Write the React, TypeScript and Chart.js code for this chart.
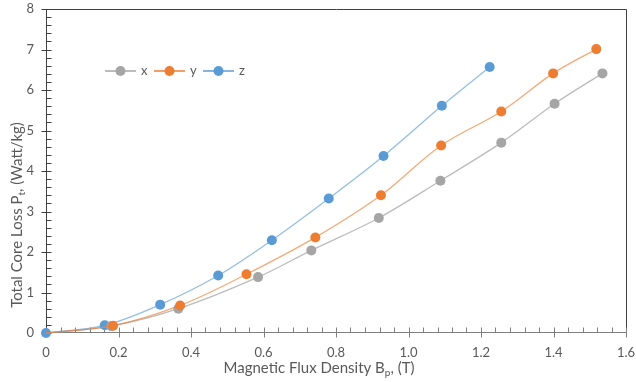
import React, { useEffect, useRef } from "react";
import { Chart, registerables } from "chart.js";

Chart.register(...registerables);

// ---- data ----
const seriesNames = ["x", "y", "z"];
const seriesColors = ["#A5A5A5", "#ED7D31", "#5B9BD5"];
const lineColors = ["rgba(165,165,165,0.75)", "rgba(237,125,49,0.65)", "rgba(91,155,213,0.65)"];

const bX = [0, 0.18, 0.365, 0.585, 0.732, 0.918, 1.088, 1.256, 1.403, 1.535];
const pX = [0, 0.17, 0.6, 1.38, 2.04, 2.84, 3.76, 4.7, 5.66, 6.41];

const bY = [0, 0.185, 0.37, 0.553, 0.743, 0.924, 1.09, 1.256, 1.399, 1.518];
const pY = [0, 0.18, 0.68, 1.45, 2.36, 3.4, 4.63, 5.47, 6.41, 7.01];

const bZ = [0, 0.162, 0.315, 0.475, 0.623, 0.78, 0.931, 1.092, 1.224];
const pZ = [0, 0.19, 0.7, 1.42, 2.29, 3.32, 4.37, 5.61, 6.57];

const xMin = 0, xMax = 1.6, xStep = 0.2, xMinorStep = 0.04;
const yMin = 0, yMax = 8, yStep = 1, yMinorStep = 0.2;

const xTitle = [
  { t: "Magnetic Flux Density B" },
  { t: "p", sub: true },
  { t: ", (T)" },
];
const yTitle = [
  { t: "Total Core Loss P" },
  { t: "t", sub: true },
  { t: ", (Watt/kg)" },
];

const FONT = "Lato, 'Liberation Sans', sans-serif";
const TEXT = "#595959";

function zip(a: number[], b: number[]) {
  return a.map((v, i) => ({ x: v, y: b[i] }));
}

function drawRich(ctx: CanvasRenderingContext2D, parts: any[], cx: number, cy: number, size: number) {
  const subSize = Math.round(size * 0.68);
  const widths = parts.map((p) => {
    ctx.font = `${p.sub ? subSize : size}px ${FONT}`;
    return ctx.measureText(p.t).width;
  });
  const total = widths.reduce((a, b) => a + b, 0);
  let x = cx - total / 2;
  ctx.textBaseline = "middle";
  ctx.textAlign = "left";
  ctx.fillStyle = TEXT;
  parts.forEach((p, i) => {
    ctx.font = `${p.sub ? subSize : size}px ${FONT}`;
    ctx.fillText(p.t, x, cy + (p.sub ? size * 0.3 : 0));
    x += widths[i];
  });
}

const decor = {
  id: "decor",
  beforeDatasetsDraw(chart: any) {
    const { ctx, chartArea, scales } = chart;
    const L = Math.round(chartArea.left) + 0.5;
    const R = Math.round(chartArea.right) + 0.5;
    const T = Math.round(chartArea.top) + 0.5;
    const B = Math.round(chartArea.bottom) - 0.5;
    ctx.save();
    ctx.lineWidth = 1;
    // frame top/right
    ctx.strokeStyle = "#404040";
    ctx.beginPath();
    ctx.moveTo(L, T);
    ctx.lineTo(R, T);
    ctx.lineTo(R, B);
    ctx.stroke();
    // y axis
    ctx.strokeStyle = "#404040";
    ctx.beginPath();
    ctx.moveTo(L, T);
    ctx.lineTo(L, B);
    const ny = Math.round((yMax - yMin) / yMinorStep);
    const perY = Math.round(yStep / yMinorStep);
    for (let i = 0; i <= ny; i++) {
      const y = Math.round(scales.y.getPixelForValue(yMin + i * yMinorStep)) + 0.5;
      if (i % perY === 0) {
        ctx.moveTo(L - 5, y);
        ctx.lineTo(L + 5, y);
      } else {
        ctx.moveTo(L, y);
        ctx.lineTo(L + 5, y);
      }
    }
    ctx.stroke();
    // x axis
    ctx.strokeStyle = "#7F7F7F";
    ctx.beginPath();
    ctx.moveTo(L, B);
    ctx.lineTo(R, B);
    const nx = Math.round((xMax - xMin) / xMinorStep);
    const perX = Math.round(xStep / xMinorStep);
    for (let i = 0; i <= nx; i++) {
      const x = Math.round(scales.x.getPixelForValue(xMin + i * xMinorStep)) + 0.5;
      if (i % perX === 0) {
        ctx.moveTo(x, B - 5);
        ctx.lineTo(x, B + 5);
      } else {
        ctx.moveTo(x, B - 5);
        ctx.lineTo(x, B);
      }
    }
    ctx.stroke();
    ctx.restore();
  },
  afterDraw(chart: any) {
    const { ctx } = chart;
    ctx.save();
    // axis titles
    drawRich(ctx, xTitle, 319, 368, 15);
    ctx.translate(17, 215);
    ctx.rotate(-Math.PI / 2);
    drawRich(ctx, yTitle, 0, 0, 15);
    ctx.restore();

    // legend
    ctx.save();
    const ly = 71;
    let x = 105;
    seriesNames.forEach((name, i) => {
      ctx.strokeStyle = seriesColors[i];
      ctx.lineWidth = 1.5;
      ctx.beginPath();
      ctx.moveTo(x, ly);
      ctx.lineTo(x + 31, ly);
      ctx.stroke();
      ctx.fillStyle = seriesColors[i];
      ctx.beginPath();
      ctx.arc(x + 15.5, ly, 5, 0, Math.PI * 2);
      ctx.fill();
      ctx.fillStyle = TEXT;
      ctx.font = `13px ${FONT}`;
      ctx.textBaseline = "middle";
      ctx.textAlign = "left";
      ctx.fillText(name, x + 36, ly);
      x += 49;
    });
    ctx.restore();
  },
};

function noPad(s: any) {
  s.paddingTop = 0;
  s.paddingBottom = 0;
  s.paddingLeft = 0;
  s.paddingRight = 0;
}

export default function App() {
  const ref = useRef<HTMLCanvasElement | null>(null);
  useEffect(() => {
    if (!ref.current) return;
    const dataSets = [zip(bX, pX), zip(bY, pY), zip(bZ, pZ)];
    const orders = [1, 0, 2];
    const chart = new Chart(ref.current, {
      type: "line",
      data: {
        datasets: dataSets.map((d, i) => ({
          label: seriesNames[i],
          data: d,
          order: orders[i],
          clip: false,
          borderColor: lineColors[i],
          backgroundColor: seriesColors[i],
          pointBackgroundColor: seriesColors[i],
          pointBorderColor: seriesColors[i],
          borderWidth: 1.3,
          pointRadius: (c: any) => (i !== 2 && c.dataIndex === 0 ? 0 : 5),
          pointBorderWidth: 0,
          tension: 0.35,
          fill: false,
        })),
      },
      plugins: [decor],
      options: {
        animation: false,
        responsive: false,
        devicePixelRatio: 1,
        layout: { padding: { left: 0, top: 9, right: 10, bottom: 0 } },
        plugins: { legend: { display: false }, tooltip: { enabled: false } },
        scales: {
          x: {
            type: "linear",
            min: xMin,
            max: xMax,
            border: { display: false },
            grid: { display: false, drawTicks: false },
            ticks: { stepSize: xStep, padding: 12, color: TEXT, font: { family: FONT, size: 13 } },
            afterFit: (s: any) => { s.height = 49; noPad(s); },
          },
          y: {
            type: "linear",
            min: yMin,
            max: yMax,
            border: { display: false },
            grid: { display: false, drawTicks: false },
            ticks: { stepSize: yStep, padding: 12, color: TEXT, font: { family: FONT, size: 13 } },
            afterFit: (s: any) => { s.width = 46; noPad(s); },
          },
        },
      },
    } as any);
    return () => chart.destroy();
  }, []);
  return (
    <div style={{ position: "fixed", left: 0, top: 0, width: 636, height: 382, background: "#fff" }}>
      <canvas ref={ref} width={636} height={382} style={{ display: "block" }} />
    </div>
  );
}
